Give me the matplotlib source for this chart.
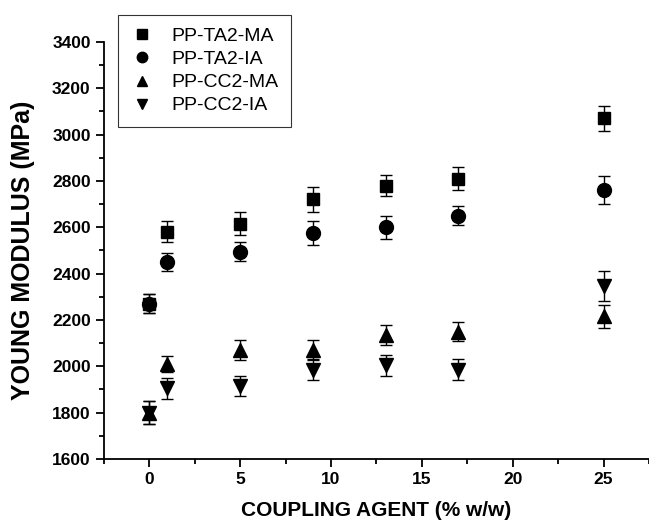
import matplotlib
matplotlib.use("Agg")
import matplotlib.pyplot as plt
from matplotlib.lines import Line2D
from matplotlib.ticker import MultipleLocator

plt.rcParams['font.family'] = ['Liberation Sans', 'DejaVu Sans']

# coupling agent content (% w/w)
x = [0, 1, 5, 9, 13, 17, 25]

# young modulus (MPa) and standard deviations
ta2_ma = [2270, 2580, 2615, 2720, 2780, 2810, 3070]
ta2_ma_err = [40, 45, 50, 55, 45, 50, 55]
ta2_ia = [2270, 2450, 2495, 2575, 2600, 2650, 2760]
ta2_ia_err = [40, 40, 40, 50, 50, 40, 60]
cc2_ma = [1800, 2010, 2070, 2070, 2135, 2150, 2215]
cc2_ma_err = [50, 35, 45, 45, 45, 40, 50]
cc2_ia = [1800, 1905, 1915, 1985, 2005, 1985, 2345]
cc2_ia_err = [50, 45, 45, 45, 45, 45, 65]

series = [
    ("PP-TA2-MA", ta2_ma, ta2_ma_err, "s", 9),
    ("PP-TA2-IA", ta2_ia, ta2_ia_err, "o", 10),
    ("PP-CC2-MA", cc2_ma, cc2_ma_err, "^", 10),
    ("PP-CC2-IA", cc2_ia, cc2_ia_err, "v", 10),
]

fig = plt.figure(figsize=(6.49, 5.30), dpi=100)
ax = fig.add_axes([0.160, 0.134, 0.840, 0.787])

handles = []
for label, vals, errs, mk, ms in series:
    ax.errorbar(x, vals, yerr=errs, fmt=mk, ms=ms, color="black",
                ecolor="black", elinewidth=1, capsize=4, capthick=1)
    # legend entry: marker only, no error bar
    handles.append(Line2D([], [], ls="none", marker=mk, ms=ms * 0.75,
                          color="black", label=label))

ax.set_xlim(-2.5, 27.5)
ax.set_ylim(1600, 3400)
ax.xaxis.set_major_locator(MultipleLocator(5))
ax.xaxis.set_minor_locator(MultipleLocator(2.5))
ax.yaxis.set_major_locator(MultipleLocator(200))
ax.yaxis.set_minor_locator(MultipleLocator(100))

ax.spines["top"].set_visible(False)
ax.spines["right"].set_visible(False)
for s in ("left", "bottom"):
    ax.spines[s].set_linewidth(1.3)

ax.tick_params(which="major", direction="out", length=6, width=1.3,
               labelsize=12.5)
ax.tick_params(which="minor", direction="out", length=3.5, width=1.3)
for lab in ax.get_xticklabels() + ax.get_yticklabels():
    lab.set_fontweight("bold")

ax.set_xlabel("COUPLING AGENT (% w/w)", fontsize=15, fontweight="bold",
              labelpad=10)
ax.set_ylabel("YOUNG MODULUS (MPa)", fontsize=18, fontweight="bold",
              labelpad=12)

leg = fig.legend(handles=handles, loc="upper left",
                 bbox_to_anchor=(118 / 649, 1 - 15 / 530),
                 fontsize=14, frameon=True, fancybox=False,
                 edgecolor="black", borderpad=0.65, handletextpad=0.88,
                 labelspacing=0.28, handlelength=1.2, borderaxespad=0)
leg.get_frame().set_linewidth(0.8)

fig.savefig("out.png", dpi=100)
